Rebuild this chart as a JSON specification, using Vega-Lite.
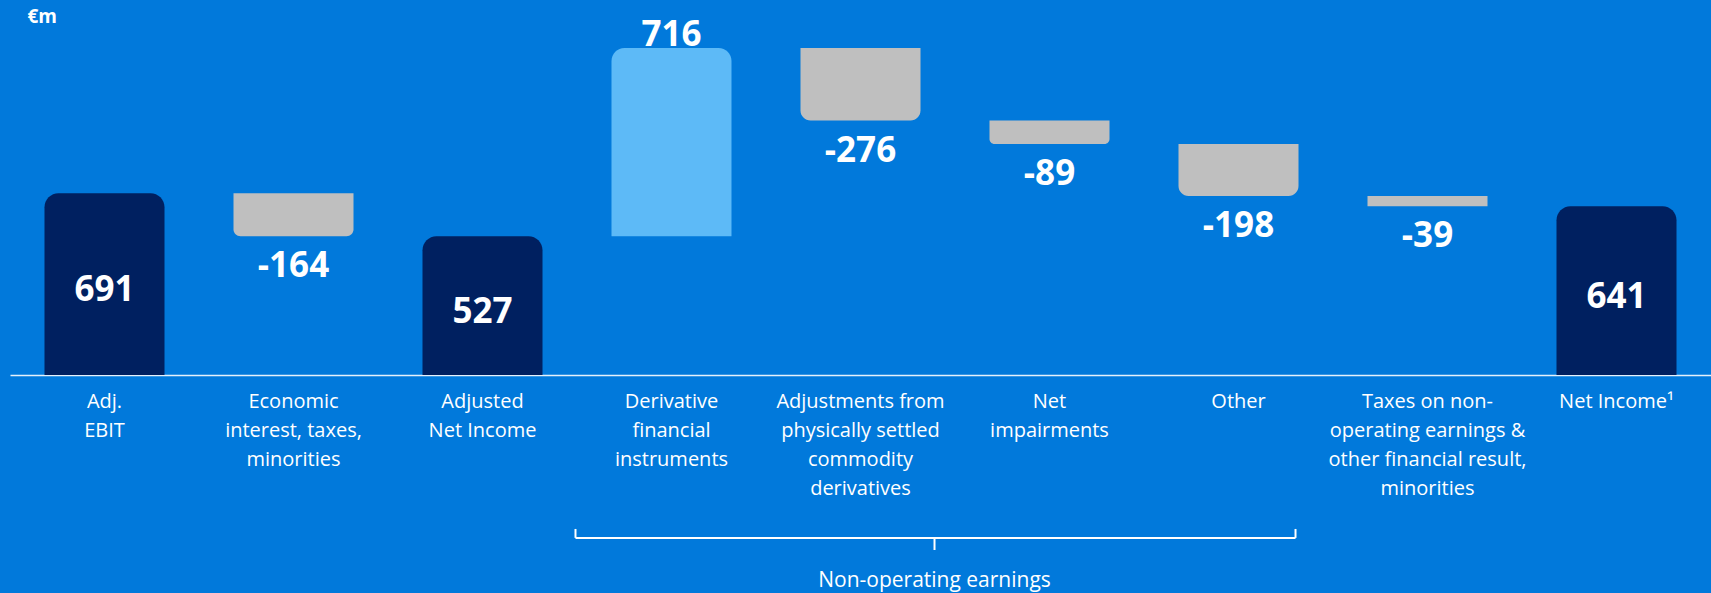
{
  "$schema": "https://vega.github.io/schema/vega-lite/v6.json",
  "width": 1701,
  "height": 375,
  "autosize": {"type": "none"},
  "padding": {"left": 10, "top": 0, "right": 0, "bottom": 218},
  "background": "#0179DB",
  "config": {
    "view": {"stroke": null},
    "font": "Open Sans",
    "text": {"font": "Open Sans", "color": "white"}
  },
  "data": {
    "values": [
      {"cat": "Adj.|EBIT", "start": 0, "end": 691, "value": 691, "kind": "total"},
      {"cat": "Economic|interest, taxes,|minorities", "start": 691, "end": 527, "value": -164, "kind": "decrease"},
      {"cat": "Adjusted|Net Income", "start": 0, "end": 527, "value": 527, "kind": "total"},
      {"cat": "Derivative|financial|instruments", "start": 527, "end": 1243, "value": 716, "kind": "increase"},
      {"cat": "Adjustments from|physically settled|commodity|derivatives", "start": 1243, "end": 967, "value": -276, "kind": "decrease"},
      {"cat": "Net|impairments", "start": 967, "end": 878, "value": -89, "kind": "decrease"},
      {"cat": "Other", "start": 878, "end": 680, "value": -198, "kind": "decrease"},
      {"cat": "Taxes on non-|operating earnings &|other financial result,|minorities", "start": 680, "end": 641, "value": -39, "kind": "decrease"},
      {"cat": "Net Income¹", "start": 0, "end": 641, "value": 641, "kind": "total"}
    ]
  },
  "encoding": {
    "x": {
      "field": "cat",
      "type": "nominal",
      "sort": null,
      "scale": {
        "domain": ["Adj.|EBIT", "Economic|interest, taxes,|minorities", "Adjusted|Net Income", "Derivative|financial|instruments", "Adjustments from|physically settled|commodity|derivatives", "Net|impairments", "Other", "Taxes on non-|operating earnings &|other financial result,|minorities", "Net Income¹"],
        "paddingInner": 0.365,
        "paddingOuter": 0.1825
      },
      "axis": {
        "title": null,
        "labelAngle": 0,
        "labelExpr": "split(datum.label, '|')",
        "labelColor": "white",
        "labelFont": "Open Sans",
        "labelFontSize": 20,
        "labelLineHeight": 29,
        "labelBaseline": "top",
        "labelPadding": 16,
        "labelLimit": 400,
        "ticks": false,
        "domainColor": "#E6F1FB",
        "domainWidth": 1.5,
        "grid": false
      }
    },
    "y": {
      "field": "start",
      "type": "quantitative",
      "scale": {"domain": [0, 1425], "nice": false},
      "axis": {
        "title": "€m",
        "titleAngle": 0,
        "titleX": 17,
        "titleY": 16,
        "titleAlign": "left",
        "titleBaseline": "middle",
        "titleColor": "white",
        "titleFont": "Open Sans",
        "titleFontSize": 19,
        "titleFontWeight": "bold",
        "labels": false,
        "ticks": false,
        "domain": false,
        "grid": false
      }
    }
  },
  "layer": [
    {
      "transform": [{"filter": "datum.kind == 'total'"}],
      "mark": {"type": "bar", "color": "#002060", "cornerRadiusTopLeft": 14, "cornerRadiusTopRight": 14},
      "encoding": {"y2": {"field": "end"}}
    },
    {
      "transform": [{"filter": "datum.kind == 'increase'"}],
      "mark": {"type": "bar", "color": "#5DBAF7", "cornerRadiusTopLeft": 13, "cornerRadiusTopRight": 13},
      "encoding": {"y2": {"field": "end"}}
    },
    {
      "transform": [{"filter": "datum.value == -276 || datum.value == -198"}],
      "mark": {"type": "bar", "color": "#BFBFBF", "cornerRadiusBottomLeft": 10, "cornerRadiusBottomRight": 10},
      "encoding": {"y2": {"field": "end"}}
    },
    {
      "transform": [{"filter": "datum.value == -164"}],
      "mark": {"type": "bar", "color": "#BFBFBF", "cornerRadiusBottomLeft": 7, "cornerRadiusBottomRight": 7},
      "encoding": {"y2": {"field": "end"}}
    },
    {
      "transform": [{"filter": "datum.value == -89"}],
      "mark": {"type": "bar", "color": "#BFBFBF", "cornerRadiusBottomLeft": 5, "cornerRadiusBottomRight": 5},
      "encoding": {"y2": {"field": "end"}}
    },
    {
      "transform": [{"filter": "datum.value == -39"}],
      "mark": {"type": "bar", "color": "#BFBFBF"},
      "encoding": {"y2": {"field": "end"}}
    },
    {
      "transform": [
        {"filter": "datum.kind == 'total'"},
        {"fold": ["start", "end"], "as": ["k", "v"]}
      ],
      "mark": {"type": "text", "fontSize": 35, "fontWeight": "bold", "baseline": "middle", "dy": 6},
      "encoding": {
        "y": {"aggregate": "mean", "field": "v", "type": "quantitative"},
        "text": {"field": "value", "type": "nominal"}
      }
    },
    {
      "transform": [{"filter": "datum.kind == 'increase'"}],
      "mark": {"type": "text", "fontSize": 35, "fontWeight": "bold", "baseline": "alphabetic", "dy": -2},
      "encoding": {
        "y": {"field": "end", "type": "quantitative"},
        "text": {"field": "value", "type": "nominal"}
      }
    },
    {
      "transform": [{"filter": "datum.kind == 'decrease'"}],
      "mark": {"type": "text", "fontSize": 35, "fontWeight": "bold", "baseline": "middle", "dy": 30},
      "encoding": {
        "y": {"field": "end", "type": "quantitative"},
        "text": {"field": "value", "type": "nominal"}
      }
    },
    {
      "transform": [{"filter": "datum.cat == 'Other'"}],
      "mark": {"type": "rule", "color": "white", "strokeWidth": 2, "xOffset": -36, "x2Offset": -3},
      "encoding": {
        "x": {"datum": "Derivative|financial|instruments", "bandPosition": 0},
        "x2": {"datum": "Other", "bandPosition": 1},
        "y": {"datum": -619}
      }
    },
    {
      "transform": [{"filter": "datum.cat == 'Other'"}],
      "mark": {"type": "rule", "color": "white", "strokeWidth": 2, "xOffset": -36},
      "encoding": {
        "x": {"datum": "Derivative|financial|instruments", "bandPosition": 0},
        "y": {"datum": -585},
        "y2": {"datum": -619}
      }
    },
    {
      "transform": [{"filter": "datum.cat == 'Other'"}],
      "mark": {"type": "rule", "color": "white", "strokeWidth": 2, "xOffset": -3},
      "encoding": {
        "x": {"datum": "Other", "bandPosition": 1},
        "y": {"datum": -585},
        "y2": {"datum": -619}
      }
    },
    {
      "transform": [{"filter": "datum.cat == 'Other'"}],
      "mark": {"type": "rule", "color": "white", "strokeWidth": 2, "xOffset": 14},
      "encoding": {
        "x": {"datum": "Adjustments from|physically settled|commodity|derivatives", "bandPosition": 1},
        "y": {"datum": -619},
        "y2": {"datum": -665}
      }
    },
    {
      "transform": [{"filter": "datum.cat == 'Other'"}],
      "mark": {"type": "text", "fontSize": 21, "baseline": "middle", "color": "white", "xOffset": 14, "dy": 2},
      "encoding": {
        "x": {"datum": "Adjustments from|physically settled|commodity|derivatives", "bandPosition": 1},
        "y": {"datum": -775},
        "text": {"value": "Non-operating earnings"}
      }
    }
  ]
}
